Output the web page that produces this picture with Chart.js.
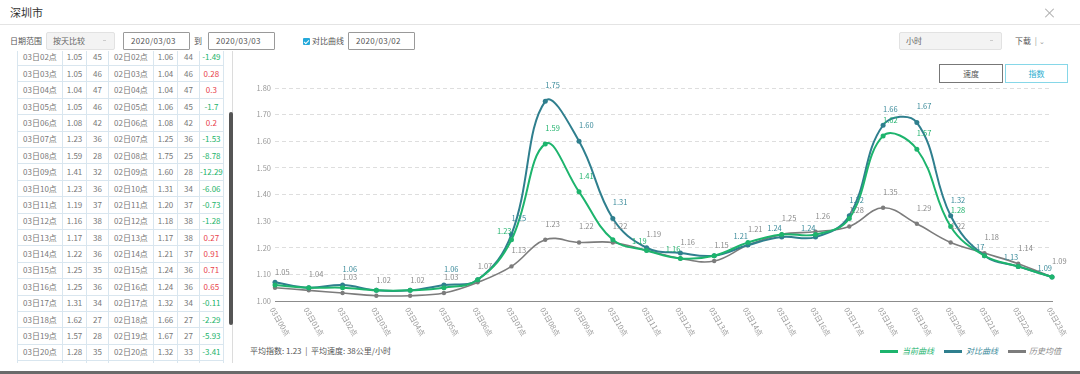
<!DOCTYPE html>
<html><head><meta charset="utf-8">
<script src="https://cdn.jsdelivr.net/npm/chart.js@4.4.1/dist/chart.umd.min.js"></script>
<style>
*{box-sizing:border-box;}
body{margin:0;width:1080px;height:374px;overflow:hidden;background:#fff;font-family:'Noto Sans CJK SC','Noto Sans',sans-serif;position:relative;color:#666;}
.a{position:absolute;}
.title{left:10px;top:4px;font-size:11px;color:#333;line-height:16px;}
.close{left:1045px;top:8px;width:10px;height:10px;}
.close:before,.close:after{content:'';position:absolute;left:4px;top:-1px;width:1px;height:12px;background:#aaa;transform:rotate(45deg);}
.close:after{transform:rotate(-45deg);}
.sep{left:0;top:24px;width:1080px;height:1px;background:#e4e4e4;}
.lbl{font-size:8px;line-height:10px;color:#555;top:36px;white-space:nowrap;}
.sel{top:32px;height:18px;background:#f3f3f3;border:1px solid #e2e2e2;border-radius:2px;font-size:8px;line-height:16px;color:#666;padding-left:6px;}
.sel i{position:absolute;right:8px;top:7px;width:3px;height:1px;background:#ccc;}
.inp{top:32px;height:18px;border:1px solid #9a9a9a;border-radius:1px;font-size:8px;line-height:16px;color:#555;padding-left:7px;letter-spacing:0.3px;}
.chk{left:303px;top:38px;width:7px;height:7px;background:#25a9da;border-radius:1px;}
.chk:after{content:'';position:absolute;left:2px;top:0.5px;width:2px;height:4px;border:solid #fff;border-width:0 1px 1px 0;transform:rotate(45deg);}
.tbox{left:17px;top:51px;width:207px;height:312px;overflow:hidden;}
table{border-collapse:collapse;table-layout:fixed;position:relative;top:-2.3px;}
td{border:1px solid #d9e6ef;height:16.4px;padding:0;font-size:8px;line-height:14px;text-align:center;color:#777;white-space:nowrap;overflow:hidden;}
td.up{color:#e8414a;} td.dn{color:#22b36a;}
.track{left:232px;top:51px;width:1px;height:312px;background:#dcdcdc;}
.thumb{left:229px;top:112px;width:4px;height:213px;background:#555;border-radius:2px;}
.btm{left:0;top:371px;width:1080px;height:3px;background:#6a6a6a;}
.btn{top:64px;height:19px;font-size:8px;line-height:17px;text-align:center;}
.avg{left:250px;top:346px;font-size:8px;line-height:10px;color:#555;white-space:nowrap;}
.leg{top:346px;font-size:8px;line-height:10px;font-style:italic;white-space:nowrap;}
.legl{top:349.5px;height:3px;width:18px;}
#cw{left:240px;top:70px;width:830px;height:275px;}
</style></head>
<body>
<div class="a title">深圳市</div>
<div class="a close"></div>
<div class="a sep"></div>
<div class="a lbl" style="left:10px">日期范围</div>
<div class="a sel" style="left:46px;width:69px">按天比较<i></i></div>
<div class="a inp" style="left:123px;width:67px">2020/03/03</div>
<div class="a lbl" style="left:194px">到</div>
<div class="a inp" style="left:208px;width:67px">2020/03/03</div>
<div class="a chk"></div>
<div class="a lbl" style="left:312px">对比曲线</div>
<div class="a inp" style="left:348px;width:67px">2020/03/02</div>
<div class="a sel" style="left:899px;width:103px">小时<i></i></div>
<div class="a lbl" style="left:1015px">下载 <span style="color:#999;margin-left:2px">|</span> <span style="color:#999;font-size:7px">&#8964;</span></div>

<div class="a tbox"><table id="tbl"><colgroup>
<col style="width:45px"><col style="width:24px"><col style="width:22px"><col style="width:45px"><col style="width:24px"><col style="width:22px"><col style="width:23px">
</colgroup><tbody id="tb"></tbody></table></div>
<div class="a track"></div>
<div class="a thumb"></div>

<div class="a btn" style="left:939px;width:64px;border:1px solid #777;color:#555">速度</div>
<div class="a btn" style="left:1005px;width:63px;border:1px solid #86d7e8;color:#2aaed0">指数</div>

<div class="a" id="cw"><canvas id="c" width="830" height="275"></canvas></div>

<div class="a avg">平均指数: 1.23 &nbsp;|&nbsp; 平均速度: 38公里/小时</div>
<div id="legend"></div>
<div class="a btm"></div>

<script>
// ---- data ----
const hours = ['00','01','02','03','04','05','06','07','08','09','10','11','12','13','14','15','16','17','18','19','20','21','22','23'];
const xLabels = hours.map(h => '03日' + h + '点');
const seriesNames = ['当前曲线', '对比曲线', '历史均值'];
const currentIdx = [1.06,1.05,1.05,1.04,1.04,1.05,1.08,1.23,1.59,1.41,1.23,1.19,1.16,1.17,1.22,1.25,1.25,1.31,1.62,1.57,1.28,1.17,1.13,1.09];
const compareIdx = [1.07,1.05,1.06,1.04,1.04,1.06,1.08,1.25,1.75,1.60,1.31,1.20,1.18,1.17,1.21,1.24,1.24,1.32,1.66,1.67,1.32,1.17,1.13,1.09];
const historyIdx = [1.05,1.04,1.03,1.02,1.02,1.03,1.07,1.13,1.23,1.22,1.22,1.19,1.16,1.15,1.21,1.25,1.26,1.28,1.35,1.29,1.22,1.18,1.14,1.09];
const yTicks = [1.00,1.10,1.20,1.30,1.40,1.50,1.60,1.70,1.80];

// table (hours 02 - 20 visible)
const tableHours = ['02','03','04','05','06','07','08','09','10','11','12','13','14','15','16','17','18','19','20'];
const tableCurIdx = [1.05,1.05,1.04,1.05,1.08,1.23,1.59,1.41,1.23,1.19,1.16,1.17,1.22,1.25,1.25,1.31,1.62,1.57,1.28];
const tableCurSpeed = [45,46,47,46,42,36,28,32,36,37,38,38,36,35,36,34,27,28,35];
const tableCmpIdx = [1.06,1.04,1.04,1.06,1.08,1.25,1.75,1.60,1.31,1.20,1.18,1.17,1.21,1.24,1.24,1.32,1.66,1.67,1.32];
const tableCmpSpeed = [44,46,47,45,42,36,25,28,34,37,38,38,37,36,36,34,27,27,33];
const tableDiff = ['-1.49','0.28','0.3','-1.7','0.2','-1.53','-8.78','-12.29','-6.06','-0.73','-1.28','0.27','0.91','0.71','0.65','-0.11','-2.29','-5.93','-3.41'];

const colors = ['#1db46d', '#2f7f8e', '#7c7c7c'];
const labelColors = ['#22b36e', '#3a8a9a', '#8a8a8a'];

// ---- table ----
const tb = document.getElementById('tb');
let html = '';
tableHours.forEach((h, i) => {
  const d = tableDiff[i];
  html += '<tr><td>03日' + h + '点</td><td>' + tableCurIdx[i].toFixed(2) + '</td><td>' + tableCurSpeed[i] +
    '</td><td>02日' + h + '点</td><td>' + tableCmpIdx[i].toFixed(2) + '</td><td>' + tableCmpSpeed[i] +
    '</td><td class="' + (d.charAt(0) === '-' ? 'dn' : 'up') + '">' + d + '</td></tr>';
});
html += '<tr><td></td><td></td><td></td><td></td><td></td><td></td><td></td></tr>';
tb.innerHTML = html;

// ---- legend ----
const legPos = [[880, 902], [944, 966], [1008, 1029]];
let lh = '';
seriesNames.forEach((n, i) => {
  lh += '<div class="a legl" style="left:' + legPos[i][0] + 'px;background:' + colors[i] + '"></div>';
  lh += '<div class="a leg" style="left:' + legPos[i][1] + 'px;color:' + labelColors[i] + '">' + n + '</div>';
});
document.getElementById('legend').innerHTML = lh;

// ---- chart ----
const FONT = "'Noto Sans CJK SC','Noto Sans',sans-serif";
const pointLabels = {
  id: 'pointLabels',
  afterDatasetsDraw(chart) {
    const ctx = chart.ctx, area = chart.chartArea;
    ctx.save();
    ctx.font = '7.5px ' + FONT;
    ctx.textBaseline = 'middle';
    ctx.textAlign = 'left';
    const placed = [];
    const H = 7;
    [2, 1, 0].forEach(di => {
      const ds = chart.data.datasets[di];
      const meta = chart.getDatasetMeta(di);
      meta.data.forEach((pt, i) => {
        const txt = ds.data[i].toFixed(2);
        const w = ctx.measureText(txt).width;
        const cands = [{x: pt.x, y: pt.y - 16}, {x: pt.x - w, y: pt.y - 9}];
        for (const c of cands) {
          if (c.x < area.left - 0.5) continue;
          const b = {l: c.x - 1, r: c.x + w + 1, t: c.y - H / 2, b: c.y + H / 2};
          const hit = placed.some(o => b.l < o.r && o.l < b.r && b.t < o.b - 1e-6 && o.t < b.b - 1e-6);
          if (!hit) {
            placed.push(b);
            ctx.fillStyle = labelColors[di];
            ctx.fillText(txt, c.x, c.y);
            break;
          }
        }
      });
    });
    ctx.restore();
  },
  afterDraw(chart) {
    const ctx = chart.ctx, x = chart.scales.x, area = chart.chartArea;
    ctx.save();
    ctx.font = '7.5px ' + FONT;
    ctx.fillStyle = '#9a9a9a';
    ctx.textAlign = 'left';
    ctx.textBaseline = 'middle';
    chart.data.labels.forEach((lab, i) => {
      const px = x.getPixelForTick(i);
      ctx.save();
      ctx.translate(px - 3, area.bottom + 7);
      ctx.rotate(60 * Math.PI / 180);
      ctx.fillText(lab, 0, 0);
      ctx.restore();
    });
    ctx.restore();
  }
};

const mk = (i, data, r, bw) => ({
  label: seriesNames[i], data, borderColor: colors[i], backgroundColor: colors[i],
  pointBackgroundColor: colors[i], pointBorderWidth: 0, pointRadius: r, borderWidth: bw,
  tension: 0.4, fill: false
});

new Chart(document.getElementById('c'), {
  type: 'line',
  data: {
    labels: xLabels,
    datasets: [mk(0, currentIdx, 2.5, 2), mk(1, compareIdx, 2.5, 2), mk(2, historyIdx, 2.2, 1.6)]
  },
  options: {
    responsive: false, animation: false, devicePixelRatio: 1,
    layout: {padding: {top: 18, right: 18, bottom: 44, left: 0}},
    plugins: {legend: {display: false}, tooltip: {enabled: false}},
    scales: {
      x: {
        type: 'category', offset: false,
        grid: {display: false, drawTicks: false},
        border: {display: true, color: '#8c8c8c', width: 1},
        ticks: {display: false}
      },
      y: {
        min: yTicks[0], max: yTicks[yTicks.length - 1],
        afterBuildTicks: s => { s.ticks = yTicks.map(v => ({value: v})); },
        afterFit: s => { s.width = 35; },
        grid: {drawTicks: false, color: c => c.index === 0 ? 'rgba(0,0,0,0)' : '#dedede', lineWidth: 1},
        border: {display: false, dash: [4, 3]},
        ticks: {padding: 4, color: '#999', font: {size: 7.5, family: FONT}, callback: v => Number(v).toFixed(2)}
      }
    }
  },
  plugins: [pointLabels]
});
</script>
</body></html>
